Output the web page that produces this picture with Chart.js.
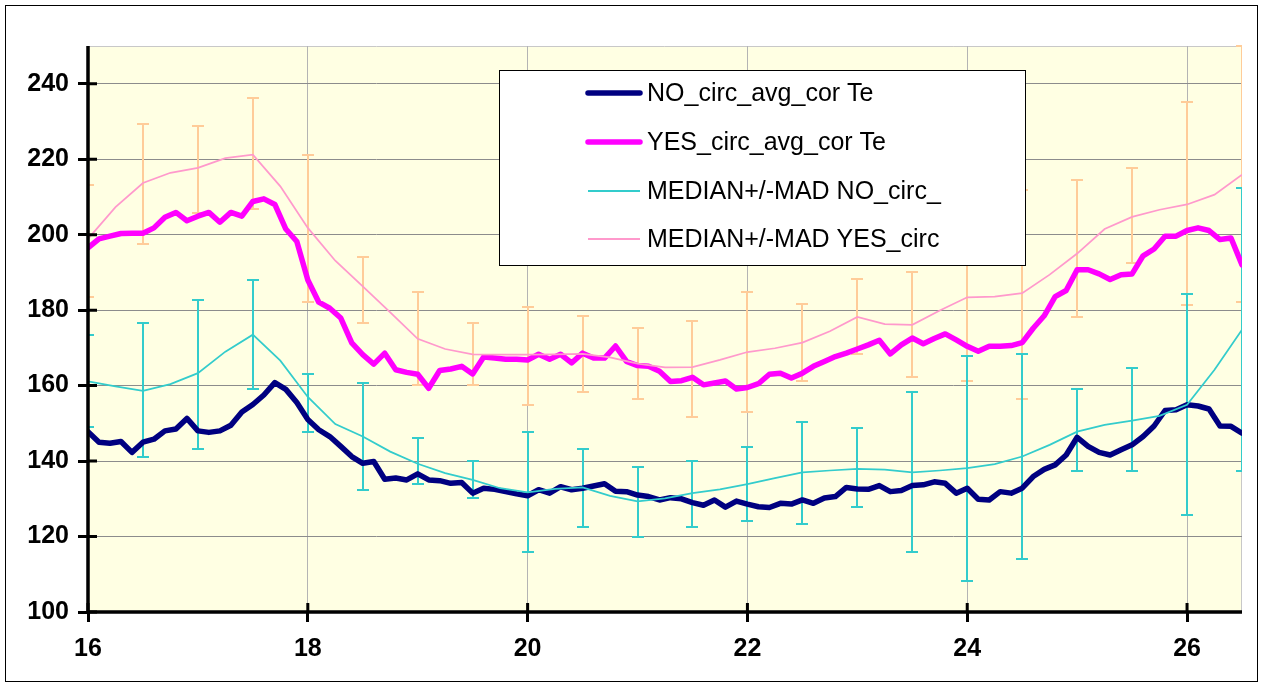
<!DOCTYPE html>
<html>
<head>
<meta charset="utf-8">
<script src="https://cdn.jsdelivr.net/npm/chart.js@4.4.1/dist/chart.umd.min.js"></script>
<style>
    body { margin: 0; background: #fff; }
    canvas { display: block; }
</style>
</head>
<body>
<canvas id="chart" width="1264" height="689"></canvas>
<script>
/////////////////////////////////////////////data//////////////////////////////////////////////

const xFine = [16.0, 16.1, 16.2, 16.3, 16.4, 16.5, 16.6, 16.7, 16.8, 16.9,
    17.0, 17.1, 17.2, 17.3, 17.4, 17.5, 17.6, 17.7, 17.8, 17.9,
    18.0, 18.1, 18.2, 18.3, 18.4, 18.5, 18.6, 18.7, 18.8, 18.9,
    19.0, 19.1, 19.2, 19.3, 19.4, 19.5, 19.6, 19.7, 19.8, 19.9,
    20.0, 20.1, 20.2, 20.3, 20.4, 20.5, 20.6, 20.7, 20.8, 20.9,
    21.0, 21.1, 21.2, 21.3, 21.4, 21.5, 21.6, 21.7, 21.8, 21.9,
    22.0, 22.1, 22.2, 22.3, 22.4, 22.5, 22.6, 22.7, 22.8, 22.9,
    23.0, 23.1, 23.2, 23.3, 23.4, 23.5, 23.6, 23.7, 23.8, 23.9,
    24.0, 24.1, 24.2, 24.3, 24.4, 24.5, 24.6, 24.7, 24.8, 24.9,
    25.0, 25.1, 25.2, 25.3, 25.4, 25.5, 25.6, 25.7, 25.8, 25.9,
    26.0, 26.1, 26.2, 26.3, 26.4, 26.5];

const noAvg = [147.8, 145.0, 144.7, 145.2, 142.3, 145.0, 145.8, 148.0, 148.5, 151.3,
    148.0, 147.6, 148.0, 149.5, 153.0, 155.0, 157.5, 160.8, 159.0, 155.5,
    151.0, 148.3, 146.5, 143.9, 141.2, 139.4, 139.9, 135.2, 135.5, 135.0,
    136.6, 135.0, 134.8, 134.1, 134.3, 131.5, 132.8, 132.5, 131.9, 131.3,
    130.8, 132.4, 131.5, 133.2, 132.4, 132.8, 133.4, 134.0, 132.0, 131.9,
    131.0, 130.6, 129.7, 130.3, 130.0, 129.0, 128.3, 129.7, 127.8, 129.4,
    128.6, 127.9, 127.7, 128.8, 128.6, 129.7, 128.8, 130.2, 130.6, 133.0,
    132.6, 132.5, 133.5, 131.9, 132.2, 133.5, 133.7, 134.5, 134.1, 131.5,
    132.8, 129.9, 129.7, 131.9, 131.5, 132.8, 135.9, 137.8, 139.0, 141.6,
    146.3, 143.9, 142.3, 141.6, 143.0, 144.3, 146.5, 149.3, 153.4, 153.6,
    154.9, 154.6, 153.8, 149.3, 149.2, 147.4];

const yesAvg = [196.5, 198.9, 199.6, 200.3, 200.4, 200.4, 201.8, 204.6, 205.9, 203.7,
    204.9, 205.9, 203.3, 205.9, 204.9, 208.8, 209.5, 208.0, 201.5, 198.2,
    188.0, 182.1, 180.5, 177.9, 171.3, 168.2, 165.7, 168.6, 164.2, 163.5,
    163.0, 159.3, 164.0, 164.4, 165.1, 163.1, 167.6, 167.3, 167.0, 167.0,
    166.8, 168.3, 167.0, 168.3, 166.0, 168.6, 167.3, 167.3, 170.5, 166.4,
    165.3, 165.1, 163.8, 161.1, 161.3, 162.2, 160.2, 160.7, 161.2, 159.1,
    159.5, 160.5, 163.0, 163.3, 162.0, 163.3, 165.1, 166.4, 167.7, 168.6,
    169.7, 170.8, 172.0, 168.4, 170.8, 172.6, 171.1, 172.5, 173.7, 172.1,
    170.4, 169.1, 170.4, 170.4, 170.6, 171.4, 175.2, 178.5, 183.6, 185.2,
    190.7, 190.7, 189.6, 188.1, 189.4, 189.6, 194.4, 196.2, 199.6, 199.6,
    201.1, 201.8, 201.1, 198.7, 199.1, 192.0];

const xMedian = [16, 16.25, 16.5, 16.75, 17, 17.25, 17.5, 17.75, 18, 18.25, 18.5,
    18.75, 19, 19.25, 19.5, 19.75, 20, 20.25, 20.5, 20.75, 21, 21.25, 21.5,
    21.75, 22, 22.25, 22.5, 22.75, 23, 23.25, 23.5, 23.75, 24, 24.25, 24.5,
    24.75, 25, 25.25, 25.5, 25.75, 26, 26.25, 26.5];

const noMedian = [161.1, 159.8, 158.6, 160.4, 163.3, 169.0, 173.5, 166.6, 157.0, 149.8, 146.5,
    142.5, 139.3, 136.8, 135.0, 132.8, 131.7, 132.6, 133.0, 130.8, 129.3, 130.1, 131.5,
    132.5, 133.9, 135.5, 137.0, 137.5, 137.9, 137.7, 137.0, 137.5, 138.1, 139.2, 141.2,
    144.3, 147.8, 149.6, 150.7, 152.0, 154.9, 164.2, 174.8];

const yesMedian = [198.9, 207.3, 213.7, 216.4, 217.7, 220.3, 221.2, 212.8, 201.8, 193.1, 186.3,
    179.4, 172.4, 169.7, 168.3, 168.2, 168.2, 168.3, 168.4, 167.5, 165.8, 164.8, 164.9,
    166.8, 168.9, 169.9, 171.4, 174.4, 178.2, 176.3, 176.1, 179.9, 183.4, 183.6, 184.5,
    189.4, 195.0, 201.5, 204.7, 206.6, 208.0, 210.6, 215.9];

// median +/- MAD error bars
const xBars = [16, 16.5, 17, 17.5, 18, 18.5, 19, 19.5, 20, 20.5, 21,
    21.5, 22, 22.5, 23, 23.5, 24, 24.5, 25, 25.5, 26, 26.5];
const noBarHigh = [173.5, 176.6, 182.8, 187.9, 163.1, 160.7, 146.2, 140.1, 147.7, 143.2, 138.5,
    140.0, 143.6, 150.4, 148.7, 158.2, 167.9, 168.3, 159.1, 164.6, 184.4, 212.5];
const noBarLow = [148.9, 141.2, 143.2, 159.1, 147.8, 132.4, 134.0, 130.3, 116.0, 122.5, 120.0,
    122.5, 124.2, 123.2, 127.7, 116.0, 108.3, 114.0, 137.5, 137.5, 125.7, 137.5];
const yesBarHigh = [213.1, 229.4, 228.9, 236.1, 221.2, 194.0, 184.8, 176.6, 180.7, 178.5, 175.2,
    177.0, 184.8, 181.7, 188.3, 190.0, 205.0, 211.9, 214.6, 217.7, 235.1, 250.0];
const yesBarLow = [183.6, 197.6, 205.8, 206.8, 182.1, 176.5, 160.2, 160.2, 154.9, 158.2, 156.5,
    151.8, 153.0, 161.1, 168.3, 162.2, 161.1, 156.5, 178.2, 192.5, 181.3, 182.1];

const xTicks = [16, 18, 20, 22, 24, 26];
const yTicks = [100, 120, 140, 160, 180, 200, 220, 240];

const seriesNames = ["NO_circ_avg_cor Te", "YES_circ_avg_cor Te", "MEDIAN+/-MAD NO_circ_", "MEDIAN+/-MAD YES_circ"];

/////////////////////////////////////////////data//////////////////////////////////////////////


function toPoints(xs, ys) {
    return xs.map((x, i) => ({ x: x, y: ys[i] }));
}

const FONT = "Arial, 'Liberation Sans', sans-serif";
Chart.defaults.font.family = FONT;

// plot area background, outer frame
const backgroundPlugin = {
    id: "background",
    beforeDraw(chart) {
        const ctx = chart.ctx;
        const a = chart.chartArea;
        ctx.save();
        ctx.fillStyle = "#ffffff";
        ctx.fillRect(0, 0, chart.width, chart.height);
        ctx.strokeStyle = "#000000";
        ctx.lineWidth = 1;
        ctx.strokeRect(5.5, 5.5, chart.width - 12, chart.height - 13);
        ctx.fillStyle = "#FFFFE3";
        ctx.fillRect(a.left, a.top, a.right - a.left, a.bottom - a.top);
        ctx.strokeStyle = "#c8c8c8";
        ctx.beginPath();
        ctx.moveTo(a.left, a.top + 0.5);
        ctx.lineTo(a.right - 0.5, a.top + 0.5);
        ctx.lineTo(a.right - 0.5, a.bottom);
        ctx.stroke();
        ctx.restore();
    }
};

// vertical error bars, drawn under the lines
function drawBars(chart, highs, lows, color) {
    const ctx = chart.ctx;
    const xs = chart.scales.x;
    const ys = chart.scales.y;
    ctx.strokeStyle = color;
    ctx.lineWidth = 2;
    xBars.forEach((xv, i) => {
        const px = Math.round(xs.getPixelForValue(xv));
        const top = Math.round(ys.getPixelForValue(highs[i]));
        const bot = Math.round(ys.getPixelForValue(lows[i]));
        ctx.beginPath();
        ctx.moveTo(px, top);
        ctx.lineTo(px, bot);
        ctx.moveTo(px - 6, top);
        ctx.lineTo(px + 6, top);
        ctx.moveTo(px - 6, bot);
        ctx.lineTo(px + 6, bot);
        ctx.stroke();
    });
}

const errorBarPlugin = {
    id: "errorBars",
    beforeDatasetsDraw(chart) {
        const ctx = chart.ctx;
        const a = chart.chartArea;
        ctx.save();
        ctx.beginPath();
        ctx.rect(a.left, a.top - 1, a.right - a.left, a.bottom - a.top + 1);
        ctx.clip();
        drawBars(chart, yesBarHigh, yesBarLow, "#FFCC99");
        drawBars(chart, noBarHigh, noBarLow, "#33CCCC");
        ctx.restore();
    }
};

// axis lines and the inner half of the tick marks (Excel style cross ticks)
const axisPlugin = {
    id: "axes",
    afterDatasetsDraw(chart) {
        const ctx = chart.ctx;
        const a = chart.chartArea;
        ctx.save();
        ctx.strokeStyle = "#000000";
        ctx.lineWidth = 3.5;
        ctx.beginPath();
        ctx.moveTo(a.left, a.top);
        ctx.lineTo(a.left, a.bottom);
        ctx.lineTo(a.right, a.bottom);
        ctx.stroke();
        ctx.lineWidth = 3;
        ctx.beginPath();
        yTicks.forEach(v => {
            const py = chart.scales.y.getPixelForValue(v);
            ctx.moveTo(a.left, py);
            ctx.lineTo(a.left + 9, py);
        });
        xTicks.forEach(v => {
            const px = chart.scales.x.getPixelForValue(v);
            ctx.moveTo(px, a.bottom);
            ctx.lineTo(px, a.bottom - 9);
        });
        ctx.stroke();
        ctx.restore();
    }
};

// legend box inside the plot
const legendPlugin = {
    id: "boxLegend",
    afterDraw(chart) {
        const ctx = chart.ctx;
        const box = { left: 499.5, top: 70.5, width: 526, height: 195 };
        ctx.save();
        ctx.fillStyle = "#ffffff";
        ctx.fillRect(box.left, box.top, box.width, box.height);
        ctx.strokeStyle = "#000000";
        ctx.lineWidth = 1;
        ctx.strokeRect(box.left, box.top, box.width, box.height);
        ctx.font = "25px " + FONT;
        ctx.textBaseline = "middle";
        ctx.fillStyle = "#000000";
        const rows = [93, 142, 191, 239];
        chart.data.datasets.forEach((ds, i) => {
            ctx.strokeStyle = ds.borderColor;
            ctx.lineWidth = ds.borderWidth > 3 ? 5.5 : 2;
            ctx.lineCap = ds.borderWidth > 3 ? "round" : "butt";
            ctx.beginPath();
            ctx.moveTo(588, rows[i]);
            ctx.lineTo(640, rows[i]);
            ctx.stroke();
            ctx.fillText(ds.label, 647, rows[i] + 1);
        });
        ctx.restore();
    }
};

const ctx = document.getElementById("chart").getContext("2d");
new Chart(ctx, {
    type: "line",
    data: {
        datasets: [
            {
                label: seriesNames[0],
                data: toPoints(xFine, noAvg),
                borderColor: "#000080",
                borderWidth: 5.5,
                borderCapStyle: "round",
                borderJoinStyle: "round",
                pointRadius: 0,
                order: 4
            },
            {
                label: seriesNames[1],
                data: toPoints(xFine, yesAvg),
                borderColor: "#FF00FF",
                borderWidth: 5.5,
                borderCapStyle: "round",
                borderJoinStyle: "round",
                pointRadius: 0,
                order: 3
            },
            {
                label: seriesNames[2],
                data: toPoints(xMedian, noMedian),
                borderColor: "#33CCCC",
                borderWidth: 1.75,
                pointRadius: 0,
                order: 2
            },
            {
                label: seriesNames[3],
                data: toPoints(xMedian, yesMedian),
                borderColor: "#FF99CC",
                borderWidth: 1.75,
                pointRadius: 0,
                order: 1
            }
        ]
    },
    options: {
        responsive: false,
        animation: false,
        devicePixelRatio: 1,
        layout: { padding: { left: 0, top: 46, right: 22, bottom: 0 } },
        plugins: {
            legend: { display: false },
            tooltip: { enabled: false }
        },
        elements: { line: { tension: 0 } },
        scales: {
            x: {
                type: "linear",
                min: 16,
                max: 26.5,
                afterFit: scale => { scale.height = 77; },
                afterBuildTicks: scale => { scale.ticks = xTicks.map(v => ({ value: v })); },
                grid: {
                    color: "#b4b4b4",
                    lineWidth: 1,
                    tickColor: "#000000",
                    tickWidth: 3,
                    tickLength: 10
                },
                border: { display: false },
                ticks: {
                    color: "#000000",
                    padding: 12,
                    maxRotation: 0,
                    font: { size: 25, weight: "bold" }
                }
            },
            y: {
                min: 100,
                max: 250,
                afterFit: scale => { scale.width = 88; },
                afterBuildTicks: scale => { scale.ticks = yTicks.map(v => ({ value: v })); },
                grid: {
                    color: "#8c8c8c",
                    lineWidth: 1,
                    tickColor: "#000000",
                    tickWidth: 3,
                    tickLength: 10
                },
                border: { display: false },
                ticks: {
                    color: "#000000",
                    padding: 9,
                    font: { size: 25, weight: "bold" }
                }
            }
        }
    },
    plugins: [backgroundPlugin, errorBarPlugin, axisPlugin, legendPlugin]
});
</script>
</body>
</html>
